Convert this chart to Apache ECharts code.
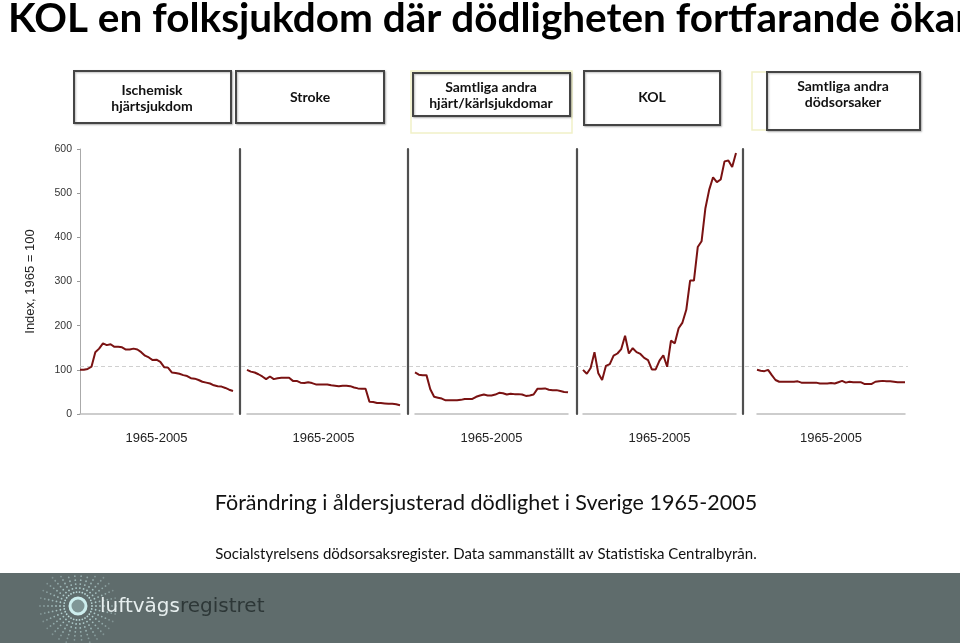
<!DOCTYPE html>
<html>
<head>
<meta charset="utf-8">
<script src="https://cdn.jsdelivr.net/npm/echarts@6/dist/echarts.min.js"></script>
<style>
html,body{margin:0;padding:0;background:#fff;}
#chart{width:960px;height:643px;}
</style>
</head>
<body>
<div id="chart"></div>
<script>
// ---- Data ----
var startYear = 1965, endYear = 2005;
var years = [];
for (var y = startYear; y <= endYear; y++) years.push(String(y));

var panelNames = ['Ischemisk\nhjärtsjukdom', 'Stroke', 'Samtliga andra\nhjärt/kärlsjukdomar', 'KOL', 'Samtliga andra\ndödsorsaker'];
var periodLabel = '1965-2005';
var yTicks = [0, 100, 200, 300, 400, 500, 600];

var ischemic = [100,100,102,107,140,148,160,156,158,152,152,151,146,146,148,146,140,132,128,122,123,118,106,105,94,93,91,88,86,81,80,77,73,71,69,65,63,62,59,55,52];
var stroke = [100,96,94,90,85,79,85,79,81,82,82,82,75,75,71,70,72,70,67,67,67,67,65,64,63,64,64,63,60,58,57,57,28,27,25,25,24,23,23,22,20];
var otherCardio = [94,89,88,88,56,39,37,35,31,31,31,31,32,34,34,34,39,42,44,42,42,44,48,47,44,46,45,45,44,41,42,44,57,57,58,55,54,54,52,50,49];
var kol = [100,91,104,140,92,77,109,113,132,137,147,177,137,149,140,136,127,122,101,101,121,133,107,166,160,194,207,236,302,302,378,391,466,508,536,525,531,572,574,559,591];
var otherCauses = [100,98,97,100,88,77,73,73,73,73,73,74,71,71,71,71,71,69,69,69,70,69,72,75,71,73,72,72,72,68,68,68,73,74,75,74,74,73,72,72,72];
var referenceLevel = 108;

var seriesData = [ischemic, stroke, otherCardio, kol, otherCauses];

// ---- Layout ----
var gridLefts = [80, 247, 415, 583, 757];
var gridWidths = [153, 153, 153, 153, 148];
var sepOffsets = [0, 7, 7, 6, 14];
var gridTop = 149, gridHeight = 265;
var lineColor = '#7a1212';
var axisFont = 'Liberation Sans, Arial, sans-serif';
var textFont = 'Lato, Open Sans, sans-serif';

var grids = [], xAxes = [], yAxes = [], series = [];
for (var i = 0; i < 5; i++) {
  grids.push({left: gridLefts[i], top: gridTop, width: gridWidths[i], height: gridHeight});
  xAxes.push({
    type: 'category', gridIndex: i, data: years, boundaryGap: false,
    axisLine: {show: true, lineStyle: {color: '#bdbdbd', width: 1.5}},
    axisTick: {show: false}, axisLabel: {show: false}, splitLine: {show: false},
    name: periodLabel, nameLocation: 'middle', nameGap: 18,
    nameTextStyle: {fontFamily: axisFont, fontSize: 13, color: '#222'}
  });
  if (i === 0) {
    yAxes.push({
      type: 'value', gridIndex: 0, min: 0, max: 600, interval: 100,
      axisLine: {show: true, lineStyle: {color: '#aaaaaa', width: 1}},
      axisTick: {show: true, length: 3, lineStyle: {color: '#999'}},
      axisLabel: {fontFamily: axisFont, fontSize: 10.5, color: '#333', margin: 8},
      splitLine: {show: false},
      name: 'Index, 1965 = 100', nameLocation: 'middle', nameGap: 43,
      nameTextStyle: {fontFamily: axisFont, fontSize: 13, color: '#222'}
    });
  } else {
    yAxes.push({
      type: 'value', gridIndex: i, min: 0, max: 600, interval: 100,
      offset: sepOffsets[i],
      axisLine: {show: true, lineStyle: {color: '#505050', width: 2.2}},
      axisTick: {show: false}, axisLabel: {show: false}, splitLine: {show: false}
    });
  }
  series.push({
    type: 'line', xAxisIndex: i, yAxisIndex: i, data: seriesData[i],
    symbol: 'none', lineStyle: {color: lineColor, width: 2}, z: 5, silent: true
  });
}
// overlay grid for the dashed reference line across all panels
grids.push({left: 80, top: gridTop, width: 828, height: gridHeight});
xAxes.push({type: 'value', gridIndex: 5, min: 0, max: 1, show: false});
yAxes.push({type: 'value', gridIndex: 5, min: 0, max: 600, interval: 100, show: false});
series.push({
  type: 'line', xAxisIndex: 5, yAxisIndex: 5, data: [], symbol: 'none', silent: true, z: 1,
  markLine: {silent: true, symbol: 'none', label: {show: false},
    lineStyle: {type: [4, 3], color: '#d0d0d0', width: 1},
    data: [{yAxis: referenceLevel}]}
});

// ---- Decorative graphics ----
var graphics = [];
function box(x, y, w, h, label, tx, ty) {
  graphics.push({type: 'rect', shape: {x: x, y: y, width: w, height: h},
    style: {fill: '#fff', stroke: '#444', lineWidth: 2, shadowBlur: 2, shadowColor: 'rgba(0,0,0,0.25)', shadowOffsetX: 1, shadowOffsetY: 1}, z: 10});
  graphics.push({type: 'text', x: tx, y: ty, z: 11,
    style: {text: label, fill: '#111', font: 'bold 14px ' + textFont, align: 'center', verticalAlign: 'middle', lineHeight: 16}});
}
// faint yellow outlines
graphics.push({type: 'rect', shape: {x: 411, y: 71, width: 161, height: 62}, style: {fill: 'none', stroke: '#f1f1c8', lineWidth: 1.5}, z: 9});
graphics.push({type: 'rect', shape: {x: 752, y: 72, width: 16, height: 58}, style: {fill: 'none', stroke: '#f1f1c8', lineWidth: 1.5}, z: 9});
box(74, 71, 157, 52, panelNames[0], 152, 98);
box(236, 71, 148, 52, panelNames[1], 310, 97);
box(413, 73, 157, 43, panelNames[2], 491, 95);
box(584, 71, 136, 54, panelNames[3], 652, 97);
box(767, 72, 153, 58, panelNames[4], 843, 94);

// title + texts
graphics.push({type: 'text', x: 8, y: 19, z: 20,
  style: {text: 'KOL en folksjukdom där dödligheten fortfarande ökar', fill: '#000', font: 'bold 40.5px ' + textFont, verticalAlign: 'middle'}});
graphics.push({type: 'text', x: 486, y: 503, z: 20,
  style: {text: 'Förändring i åldersjusterad dödlighet i Sverige 1965-2005', fill: '#111', font: '21.5px ' + textFont, align: 'center', verticalAlign: 'middle'}});
graphics.push({type: 'text', x: 486, y: 554, z: 20,
  style: {text: 'Socialstyrelsens dödsorsaksregister. Data sammanställt av Statistiska Centralbyrån.', fill: '#111', font: '15px ' + textFont, align: 'center', verticalAlign: 'middle'}});

// bottom band with logo
graphics.push({type: 'rect', shape: {x: 0, y: 573, width: 960, height: 70}, style: {fill: '#5f6c6c'}, z: 1});
var cx = 78, cy = 606;
for (var a = 0; a < 360; a += 12) {
  var rad = a * Math.PI / 180;
  for (var r = 14; r <= 40; r += 4) {
    var px = cx + r * Math.cos(rad), py = cy + r * Math.sin(rad);
    if (py < 575) continue;
    graphics.push({type: 'circle', shape: {cx: px, cy: py, r: 0.9},
      style: {fill: 'rgba(200,232,232,' + (0.85 - (r - 14) / 45) + ')'}, z: 2, silent: true});
  }
}
graphics.push({type: 'circle', shape: {cx: cx, cy: cy, r: 8}, style: {fill: '#7f9696', stroke: '#cdeeee', lineWidth: 3}, z: 3});
graphics.push({type: 'text', x: 100, y: 607, z: 4,
  style: {text: '{a|luftvägs}{b|registret}', verticalAlign: 'middle',
    rich: {a: {fill: '#e6eeee', font: '20px DejaVu Sans, sans-serif'}, b: {fill: '#2d3737', font: '20px DejaVu Sans, sans-serif'}}}});

var chart = echarts.init(document.getElementById('chart'), null, {renderer: 'canvas'});
chart.setOption({
  animation: false,
  backgroundColor: '#ffffff',
  grid: grids, xAxis: xAxes, yAxis: yAxes, series: series,
  graphic: graphics
});
</script>
</body>
</html>
